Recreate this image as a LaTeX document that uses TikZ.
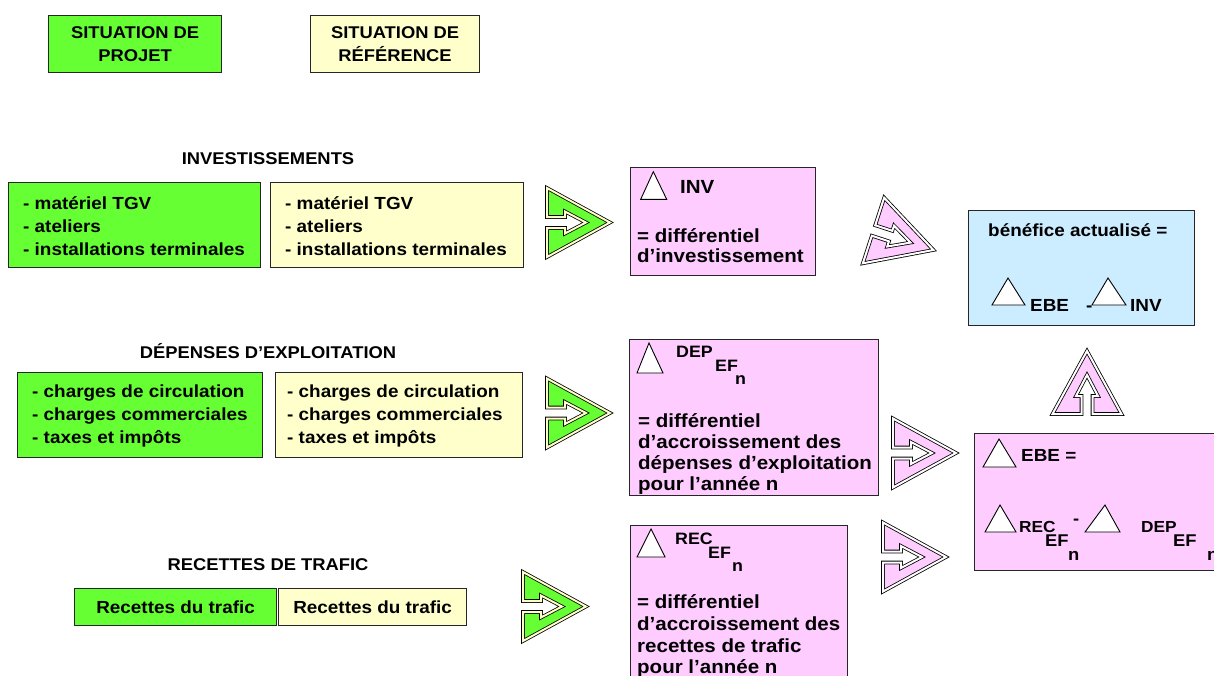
\documentclass[tikz,border=0pt]{standalone}
\usepackage{fontspec}
\setmainfont{Liberation Sans}[FakeStretch=1.08]
\definecolor{pgreen}{RGB}{102,255,51}
\definecolor{pyellow}{RGB}{255,255,204}
\definecolor{ppink}{RGB}{255,204,255}
\definecolor{pblue}{RGB}{204,236,255}
\newcommand{\fs}[1]{\bfseries\fontsize{#1}{\dimexpr #1pt*13/10\relax}\selectfont}
\begin{document}
\begin{tikzpicture}[x=1pt,y=-1pt,
  box/.style={draw=black!85, line width=1.2pt, inner sep=0pt, anchor=north west},
  lst/.style={inner sep=0pt, anchor=west, align=left, font=\bfseries\fontsize{17.5}{23}\selectfont},
  lbl/.style={inner sep=0pt, font=\fs{17}},
  ptxt/.style={inner sep=0pt, anchor=base west, font=\fs{19}},
  stxt/.style={inner sep=0pt, anchor=base west, font=\fs{16.5}},
  tri/.style={draw=black, fill=white, line width=0.9pt, line join=miter},
  notch/.pic={
    \filldraw[fill=\pgfkeysvalueof{/tikz/nfill}, draw=black, line width=0.8pt,
      double=\pgfkeysvalueof{/tikz/nband}, double distance=2pt, line join=miter]
      (0,-34.5) -- (63,0) -- (0,34.5) -- (0,5.5) -- (18,5.5) -- (18,11)
      -- (39,0) -- (18,-11) -- (18,-5.5) -- (0,-5.5) -- cycle;
  },
  nfill/.initial=pgreen, nband/.initial=pyellow
]
\clip (0,0) rectangle (1214,675);
\fill[white] (0,0) rectangle (1214,675);

% top legend
\node[box, fill=pgreen, minimum width=173pt, minimum height=57pt, align=center, font=\fs{17}] (sp) at (48,15) {SITUATION DE\\[1pt]PROJET};
\node[box, fill=pyellow, minimum width=169pt, minimum height=57pt, align=center, font=\fs{17}] (sr) at (310,15) {SITUATION DE\\[1pt]RÉFÉRENCE};

% investissements
\node[lbl] (linv) at (268,159) {INVESTISSEMENTS};
\node[box, fill=pgreen, minimum width=252pt, minimum height=85pt] (ginv) at (8,182) {};
\node[lst] (ginvt) at (23,226) {- matériel TGV\\- ateliers\\- installations terminales};
\node[box, fill=pyellow, minimum width=253pt, minimum height=85pt] (yinv) at (270,182) {};
\node[lst] (yinvt) at (285,226) {- matériel TGV\\- ateliers\\- installations terminales};

% depenses
\node[lbl] (ldep) at (268,351) {DÉPENSES D’EXPLOITATION};
\node[box, fill=pgreen, minimum width=245pt, minimum height=85pt] (gdep) at (17,372) {};
\node[lst] (gdept) at (32,416) {- charges de circulation\\- charges commerciales\\- taxes et impôts};
\node[box, fill=pyellow, minimum width=247pt, minimum height=85pt] (ydep) at (275,372) {};
\node[lst] (ydept) at (287,416) {- charges de circulation\\- charges commerciales\\- taxes et impôts};

% recettes
\node[lbl] (lrec) at (268,565) {RECETTES DE TRAFIC};
\node[box, fill=pgreen, minimum width=202pt, minimum height=37pt, font=\fs{17.5}] (grec) at (74,588) {Recettes du trafic};
\node[box, fill=pyellow, minimum width=188pt, minimum height=37pt, font=\fs{17.5}] (yrec) at (278,588) {Recettes du trafic};

% green arrows
\pic at (547,222.5) {notch};
\pic at (547,413) {notch};
\pic at (523,606.5) {notch};

% INV box
\node[box, fill=ppink, minimum width=185pt, minimum height=108pt] (pinv) at (630,167) {};
\draw[tri] (653.3,171.7) -- (666.7,199.3) -- (640.7,199.3) -- cycle;
\node[ptxt] (inv0) at (680,193) {INV};
\node[ptxt] (inv1) at (637,242) {= différentiel};
\node[ptxt] (inv2) at (637,262) {d’investissement};

% DEP box
\node[box, fill=ppink, minimum width=249pt, minimum height=156pt] (pdep) at (629,339) {};
\draw[tri] (649,343) -- (663,373) -- (637,373) -- cycle;
\node[stxt] (dep0) at (676,357) {DEP};
\node[stxt] (dep0a) at (715,371) {EF};
\node[stxt] (dep0b) at (735,384) {n};
\node[ptxt] (dep1) at (638,427) {= différentiel};
\node[ptxt] (dep2) at (638,448) {d’accroissement des};
\node[ptxt] (dep3) at (638,469) {dépenses d’exploitation};
\node[ptxt] (dep4) at (638,490) {pour l’année n};

% REC box
\node[box, fill=ppink, minimum width=217pt, minimum height=170pt] (prec) at (630,525) {};
\draw[tri] (651,529) -- (665,557) -- (637,557) -- cycle;
\node[stxt] (rec0) at (675,544) {REC};
\node[stxt] (rec0a) at (708,558) {EF};
\node[stxt] (rec0b) at (732,571) {n};
\node[ptxt] (rec1) at (637,608) {= différentiel};
\node[ptxt] (rec2) at (637,630) {d’accroissement des};
\node[ptxt] (rec3) at (637,652) {recettes de trafic};
\node[ptxt] (rec4) at (637,673) {pour l’année n};

% pink arrows
\pic[nfill=ppink, nband=white, rotate=-18] at (873.5,230.5) {notch};
\pic[nfill=ppink, nband=white] at (893,453) {notch};
\pic[nfill=ppink, nband=white] at (883,557) {notch};
\pic[nfill=ppink, nband=white, rotate=90] at (1087,414) {notch};

% blue box
\node[box, fill=pblue, minimum width=226pt, minimum height=115pt] (pben) at (968,210) {};
\node[ptxt, font=\fs{17.5}] (ben0) at (988,236) {bénéfice actualisé =};
\draw[tri] (1008,278) -- (1025,305) -- (992,305) -- cycle;
\node[ptxt, font=\fs{17.5}] (ben1) at (1030,311) {EBE};
\node[ptxt, font=\fs{17.5}] (ben2) at (1086,311) {-};
\draw[tri] (1108,278) -- (1126,305) -- (1092,305) -- cycle;
\node[ptxt, font=\fs{17.5}] (ben3) at (1130,311) {INV};

% EBE box
\node[box, fill=ppink, minimum width=266pt, minimum height=137pt] (pebe) at (974,433) {};
\draw[tri] (999,439) -- (1016,467) -- (983,467) -- cycle;
\node[ptxt, font=\fs{17.5}] (ebe0) at (1021,461) {EBE =};
\draw[tri] (1000,505) -- (1016,532) -- (985,532) -- cycle;
\node[ptxt, font=\fs{16}] (ebe1) at (1019,532) {REC};
\node[ptxt, font=\fs{17}] (ebe1a) at (1045,546) {EF};
\node[ptxt, font=\fs{17}] (ebe1b) at (1068,560) {n};
\node[ptxt, font=\fs{17}] (ebe2) at (1073,524) {-};
\draw[tri] (1105,505) -- (1120,532) -- (1085,532) -- cycle;
\node[ptxt, font=\fs{16}] (ebe3) at (1141,532) {DEP};
\node[ptxt, font=\fs{17}] (ebe3a) at (1173,546) {EF};
\node[ptxt, font=\fs{17}] (ebe3b) at (1207,560) {n};
\end{tikzpicture}
\end{document}
